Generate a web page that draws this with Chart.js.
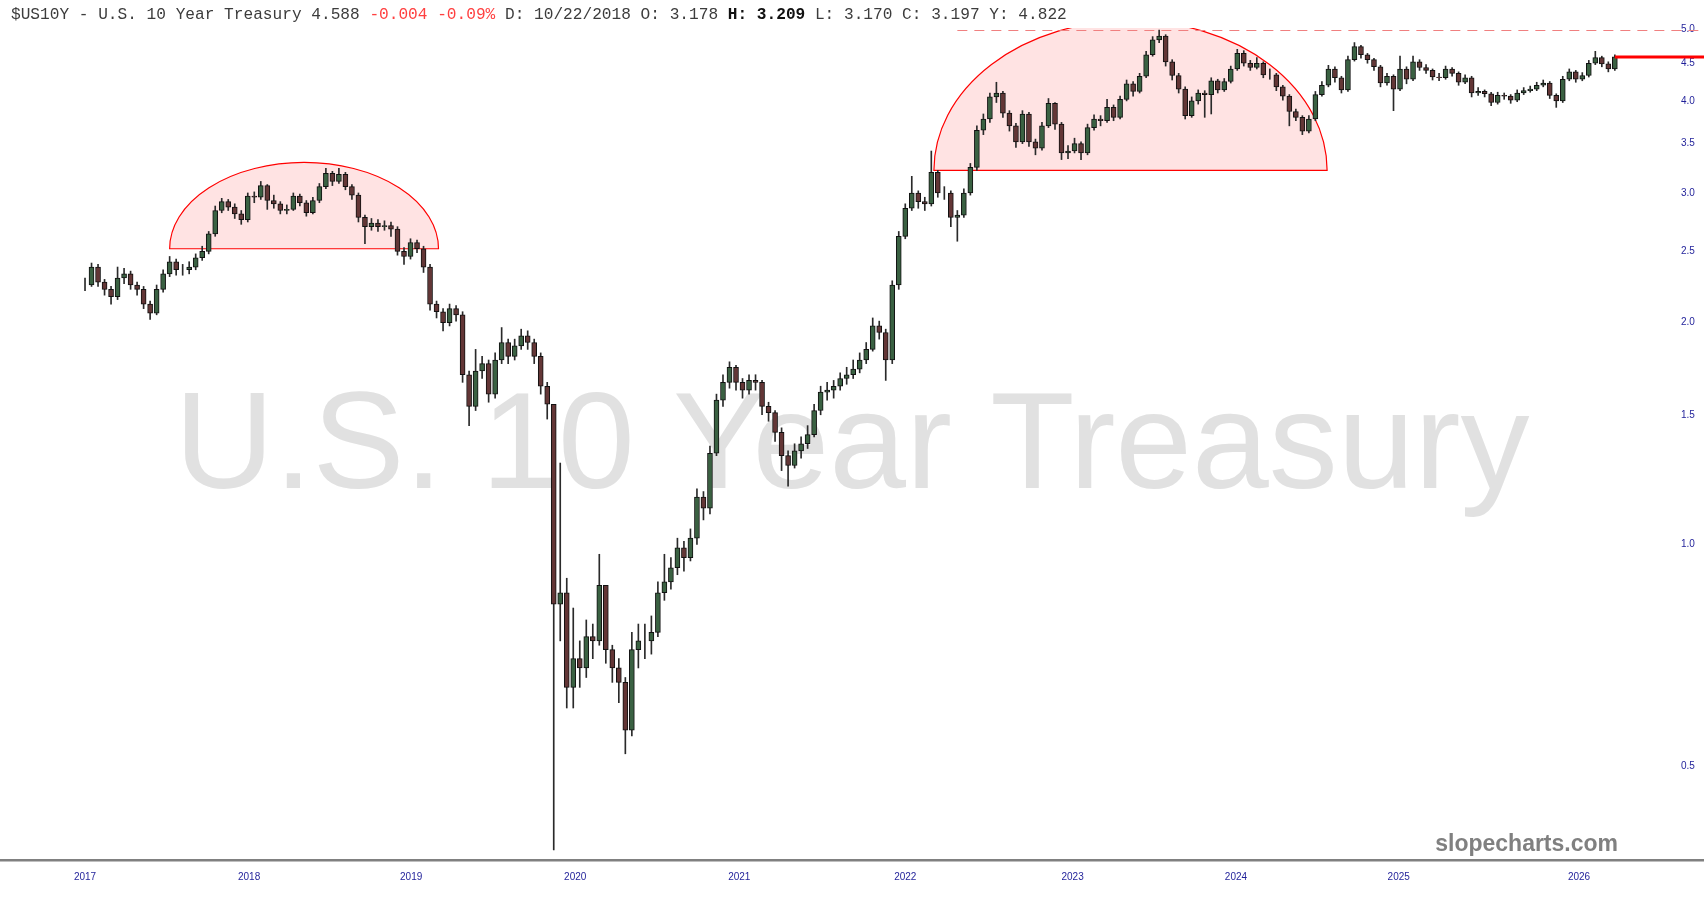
<!DOCTYPE html>
<html>
<head>
<meta charset="utf-8">
<title>$US10Y - U.S. 10 Year Treasury</title>
<script src="https://cdn.jsdelivr.net/npm/chart.js@4.4.1/dist/chart.umd.min.js"></script>
<style>
  html, body { margin: 0; padding: 0; background: #fff; }
  #wrap { width: 1704px; height: 900px; }
</style>
</head>
<body>
<div id="wrap"><canvas id="chart" width="1704" height="900"></canvas></div>
<script>
// one candle every 10 trading days
const STEP = 10;

const closes = [
  2.25,2.38,2.27,2.22,2.17,2.30,2.33,2.25,2.22,2.12,
  2.06,2.22,2.33,2.42,2.36,2.36,2.38,2.45,2.50,2.64,
  2.84,2.92,2.87,2.81,2.76,2.97,2.96,3.07,2.93,2.90,
  2.84,2.85,2.97,2.91,2.82,2.93,3.06,3.19,3.11,3.18,
  3.06,2.98,2.78,2.70,2.73,2.70,2.71,2.68,2.50,2.46,
  2.57,2.52,2.38,2.12,2.07,2.00,2.09,2.05,1.70,1.54,
  1.72,1.76,1.60,1.78,1.88,1.80,1.86,1.92,1.88,1.80,
  1.64,1.55,0.83,0.86,0.64,0.70,0.68,0.75,0.74,0.88,
  0.72,0.68,0.65,0.56,0.72,0.74,0.74,0.76,0.86,0.89,
  0.93,0.99,0.96,1.02,1.16,1.12,1.33,1.57,1.66,1.74,
  1.66,1.62,1.67,1.66,1.54,1.51,1.42,1.32,1.28,1.34,
  1.37,1.41,1.52,1.61,1.62,1.64,1.68,1.70,1.73,1.78,
  1.84,1.98,1.94,1.78,2.25,2.62,2.86,3.00,2.92,2.90,
  3.20,3.00,3.00,2.78,2.80,3.00,3.25,3.65,3.78,4.05,
  4.10,3.85,3.70,3.52,3.84,3.52,3.45,3.70,3.97,3.72,
  3.40,3.42,3.50,3.40,3.68,3.78,3.76,3.92,3.80,4.02,
  4.22,4.12,4.32,4.62,4.84,4.90,4.52,4.33,4.15,3.82,
  4.00,4.10,4.08,4.26,4.14,4.25,4.42,4.64,4.50,4.44,
  4.50,4.34,4.34,4.18,4.06,3.87,3.80,3.64,3.78,4.08,
  4.20,4.42,4.30,4.14,4.55,4.74,4.62,4.55,4.45,4.23,
  4.32,4.15,4.42,4.28,4.52,4.44,4.40,4.31,4.30,4.42,
  4.36,4.24,4.30,4.10,4.12,4.09,3.98,4.07,4.06,4.01,
  4.10,4.13,4.15,4.20,4.23,4.07,4.00,4.28,4.38,4.28,
  4.33,4.50,4.58,4.49,4.42,4.59
];

const lows = [
  2.21,2.24,2.24,2.18,2.12,2.15,2.26,2.22,2.18,2.09,
  2.02,2.05,2.20,2.31,2.32,2.32,2.33,2.36,2.43,2.48,
  2.62,2.82,2.84,2.77,2.72,2.74,2.91,2.94,2.85,2.86,
  2.81,2.81,2.84,2.88,2.79,2.81,2.91,3.04,3.07,3.09,
  3.03,2.94,2.74,2.56,2.67,2.66,2.67,2.62,2.47,2.40,
  2.44,2.49,2.34,2.08,2.03,1.95,1.98,2.01,1.66,1.45,
  1.52,1.68,1.56,1.58,1.76,1.76,1.78,1.84,1.84,1.76,
  1.60,1.48,0.385,0.74,0.60,0.60,0.64,0.66,0.70,0.73,
  0.69,0.65,0.61,0.52,0.55,0.68,0.70,0.71,0.75,0.84,
  0.87,0.91,0.92,0.95,1.00,1.08,1.10,1.32,1.54,1.63,
  1.62,1.58,1.60,1.62,1.50,1.47,1.38,1.26,1.20,1.27,
  1.31,1.35,1.40,1.50,1.57,1.58,1.62,1.65,1.68,1.71,
  1.76,1.83,1.90,1.67,1.76,2.22,2.60,2.84,2.86,2.84,
  2.88,2.96,2.94,2.70,2.58,2.78,2.98,3.22,3.60,3.74,
  3.98,3.80,3.64,3.46,3.50,3.47,3.38,3.43,3.68,3.66,
  3.33,3.34,3.40,3.33,3.38,3.65,3.70,3.74,3.76,3.78,
  4.00,4.06,4.10,4.30,4.60,4.80,4.46,4.27,4.10,3.78,
  3.80,3.96,3.80,3.84,4.10,4.12,4.23,4.40,4.46,4.40,
  4.42,4.30,4.28,4.13,4.01,3.70,3.76,3.60,3.62,3.76,
  4.06,4.18,4.24,4.10,4.12,4.53,4.57,4.50,4.40,4.18,
  4.20,3.88,4.13,4.22,4.26,4.40,4.36,4.27,4.26,4.28,
  4.32,4.20,4.22,4.05,4.07,4.05,3.94,3.96,4.02,3.97,
  3.99,4.08,4.11,4.13,4.18,4.03,3.92,3.98,4.26,4.24,
  4.26,4.31,4.48,4.45,4.38,4.40
];

const highs = [
  2.30,2.41,2.40,2.29,2.24,2.38,2.37,2.35,2.27,2.24,
  2.14,2.25,2.36,2.46,2.44,2.40,2.42,2.48,2.54,2.66,
  2.88,2.95,2.94,2.90,2.84,3.00,3.01,3.11,3.08,2.98,
  2.92,2.89,3.00,2.99,2.93,2.96,3.09,3.24,3.21,3.24,
  3.20,3.08,3.00,2.80,2.77,2.76,2.75,2.74,2.70,2.53,
  2.60,2.59,2.54,2.40,2.14,2.09,2.12,2.11,2.07,1.72,
  1.84,1.80,1.78,1.82,1.97,1.90,1.90,1.96,1.95,1.90,
  1.82,1.66,1.55,1.29,0.90,0.82,0.74,0.79,0.78,0.97,
  0.86,0.73,0.70,0.66,0.76,0.78,0.78,0.80,0.89,0.97,
  0.96,1.02,1.01,1.05,1.19,1.18,1.36,1.60,1.70,1.77,
  1.75,1.68,1.70,1.70,1.67,1.56,1.52,1.44,1.34,1.37,
  1.40,1.45,1.55,1.64,1.66,1.67,1.71,1.74,1.78,1.82,
  1.88,2.03,2.01,1.96,2.28,2.66,2.90,3.16,3.02,2.96,
  3.42,3.22,3.06,3.02,2.84,3.04,3.29,3.70,3.84,4.10,
  4.24,4.12,3.88,3.73,3.88,3.86,3.55,3.74,4.03,3.98,
  3.74,3.48,3.56,3.52,3.72,3.83,3.82,4.02,3.95,4.06,
  4.27,4.25,4.36,4.67,4.89,4.99,4.92,4.55,4.36,4.18,
  4.05,4.14,4.13,4.30,4.28,4.29,4.46,4.70,4.68,4.54,
  4.58,4.52,4.42,4.36,4.20,4.08,3.90,3.82,3.82,4.12,
  4.25,4.47,4.45,4.32,4.60,4.80,4.76,4.64,4.57,4.47,
  4.36,4.34,4.60,4.45,4.60,4.55,4.48,4.42,4.36,4.46,
  4.44,4.38,4.34,4.32,4.17,4.14,4.11,4.11,4.10,4.08,
  4.14,4.17,4.19,4.24,4.27,4.25,4.09,4.32,4.42,4.40,
  4.37,4.54,4.67,4.60,4.52,4.62
];

// year labels sit at these trading-day positions
const yearTickDays = [0, 252, 501, 753, 1005, 1260, 1517, 1768, 2018, 2295];
const yearLabels = ['2017', '2018', '2019', '2020', '2021', '2022', '2023', '2024', '2025', '2026'];
const yTicks = [0.5, 1.0, 1.5, 2.0, 2.5, 3.0, 3.5, 4.0, 4.5, 5.0];

// visible range
const xView = [-130.6, 2437.8];
const yView = [0.3743, 5.0235];

// the two rounded tops drawn on the chart
const domes = [
  { from: 130, to: 543, base: 2.52, top: 3.30 },
  { from: 1304, to: 1908, base: 3.22, top: 5.14 }
];
const resistance = 5.0;
const resistanceFrom = 1340;
const lastPrice = 4.588;

const titleParts = [
  ['$US10Y - U.S. 10 Year Treasury 4.588 ', '#3c3c3c', 'normal'],
  ['-0.004 -0.09%', '#ff4040', 'normal'],
  [' D: 10/22/2018 O: 3.178 ', '#3c3c3c', 'normal'],
  ['H: 3.209', '#111111', 'bold'],
  [' L: 3.170 C: 3.197 Y: 4.822', '#3c3c3c', 'normal']
];

const wickData = closes.map((c, i) => ({ x: i * STEP, y: [lows[i], highs[i]] }));
const bodyData = [];
for (let i = 1; i < closes.length; i++) {
  bodyData.push({ x: i * STEP, y: [closes[i - 1], closes[i]] });
}

const overlay = {
  id: 'overlay',
  beforeDatasetsDraw(chart) {
    const { ctx, chartArea: a, scales: { x, y } } = chart;
    ctx.save();
    ctx.font = '138px "Liberation Sans", Arial, sans-serif';
    ctx.fillStyle = '#e1e1e1';
    ctx.textAlign = 'center';
    ctx.textBaseline = 'alphabetic';
    ctx.fillText('U.S. 10 Year Treasury', 852, 488);

    ctx.beginPath();
    ctx.rect(a.left, a.top, a.right - a.left, a.bottom - a.top);
    ctx.clip();
    domes.forEach(d => {
      const x0 = x.getPixelForValue(d.from);
      const x1 = x.getPixelForValue(d.to);
      const by = y.getPixelForValue(d.base);
      const ty = y.getPixelForValue(d.top);
      ctx.beginPath();
      ctx.ellipse((x0 + x1) / 2, by, (x1 - x0) / 2, by - ty, 0, Math.PI, 2 * Math.PI);
      ctx.closePath();
      ctx.fillStyle = 'rgba(255,0,0,0.11)';
      ctx.fill();
      ctx.strokeStyle = '#ff0000';
      ctx.lineWidth = 1.2;
      ctx.stroke();
    });
    ctx.restore();
  },
  afterDatasetsDraw(chart) {
    const { ctx, scales: { x, y } } = chart;
    ctx.save();
    // dashed 5% line
    const ry = Math.round(y.getPixelForValue(resistance)) + 0.5;
    ctx.strokeStyle = '#f08080';
    ctx.lineWidth = 1;
    ctx.setLineDash([10, 7]);
    ctx.beginPath();
    ctx.moveTo(x.getPixelForValue(resistanceFrom), ry);
    ctx.lineTo(chart.width, ry);
    ctx.stroke();
    // last price line
    ctx.setLineDash([]);
    const ly = y.getPixelForValue(lastPrice);
    ctx.strokeStyle = '#ff0000';
    ctx.lineWidth = 3;
    ctx.beginPath();
    ctx.moveTo(x.getPixelForValue((closes.length - 1) * STEP), ly);
    ctx.lineTo(chart.width, ly);
    ctx.stroke();
    ctx.restore();
  },
  afterDraw(chart) {
    const { ctx, chartArea: a } = chart;
    ctx.save();
    // title
    let tx = 11;
    ctx.textBaseline = 'alphabetic';
    ctx.textAlign = 'left';
    titleParts.forEach(([txt, col, wt]) => {
      ctx.font = wt + ' 16.15px "Liberation Mono", "Courier New", monospace';
      ctx.fillStyle = col;
      ctx.fillText(txt, tx, 19);
      tx += ctx.measureText(txt).width;
    });
    // bottom rule
    ctx.fillStyle = '#808080';
    ctx.fillRect(0, a.bottom, chart.width, 2.5);
    // logo
    ctx.font = 'bold 23px "Liberation Sans", Arial, sans-serif';
    ctx.fillStyle = '#808080';
    ctx.textAlign = 'right';
    ctx.fillText('slopecharts.com', 1618, 851);
    ctx.restore();
  }
};

new Chart(document.getElementById('chart'), {
  type: 'bar',
  data: {
    datasets: [
      {
        data: bodyData,
        grouped: false,
        barThickness: 5,
        borderWidth: 1,
        borderSkipped: false,
        borderColor: '#111111',
        backgroundColor: ctx => (ctx.raw && ctx.raw.y[1] >= ctx.raw.y[0]) ? '#3a6142' : '#633636'
      },
      {
        data: wickData,
        grouped: false,
        barThickness: 1,
        borderWidth: 0,
        backgroundColor: '#2a2a2a'
      }
    ]
  },
  options: {
    responsive: false,
    animation: false,
    layout: { padding: { top: 28, left: 0, right: 0, bottom: 0 }, autoPadding: false },
    plugins: { legend: { display: false }, tooltip: { enabled: false } },
    scales: {
      x: {
        type: 'linear',
        offset: false,
        min: xView[0],
        max: xView[1],
        bounds: 'data',
        grid: { display: false, drawTicks: false },
        border: { display: false },
        afterBuildTicks: s => { s.ticks = yearTickDays.map(v => ({ value: v })); },
        afterFit: s => { s.height = 41; },
        ticks: {
          autoSkip: false,
          maxRotation: 0,
          padding: 12,
          color: '#1f1f99',
          font: { family: '"Liberation Sans", Arial, sans-serif', size: 10 },
          callback: (v, i) => yearLabels[i]
        }
      },
      y: {
        type: 'logarithmic',
        position: 'right',
        min: yView[0],
        max: yView[1],
        bounds: 'data',
        grid: { display: false, drawTicks: false },
        border: { display: false },
        afterBuildTicks: s => { s.ticks = yTicks.map(v => ({ value: v })); },
        afterFit: s => { s.width = 32; },
        ticks: {
          autoSkip: false,
          padding: 9,
          color: '#1f1f99',
          font: { family: '"Liberation Sans", Arial, sans-serif', size: 10 },
          callback: v => Number(v).toFixed(1)
        }
      }
    }
  },
  plugins: [overlay]
});
</script>
</body>
</html>
